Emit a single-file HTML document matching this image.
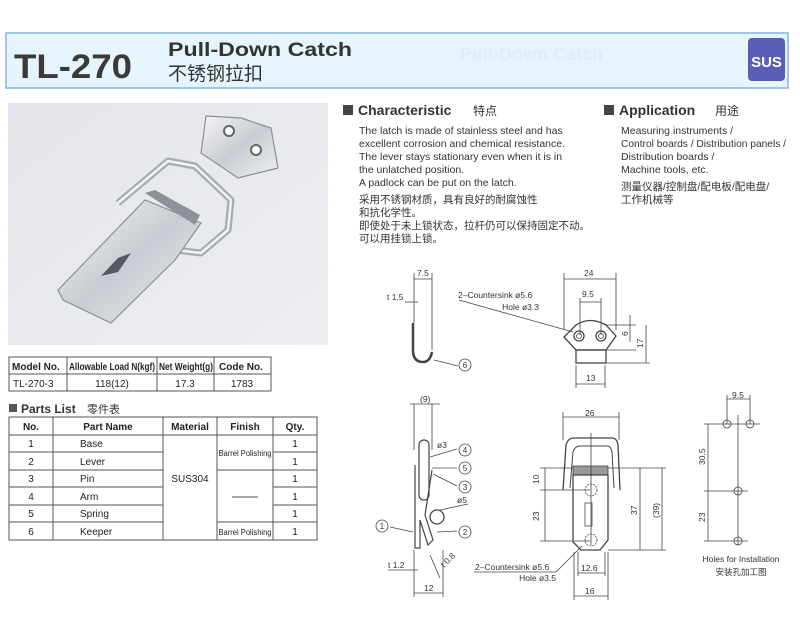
<!DOCTYPE html>
<html><head><meta charset="utf-8"><style>
html,body{margin:0;padding:0;background:#fff;}
svg{display:block;font-family:"Liberation Sans","Noto Sans CJK SC",sans-serif;}
</style></head><body>
<svg width="800" height="635" viewBox="0 0 800 635" xmlns="http://www.w3.org/2000/svg">
<defs>
<linearGradient id="met" x1="0" y1="0" x2="1" y2="1">
<stop offset="0" stop-color="#f4f5f7"/><stop offset="0.5" stop-color="#c9ccd2"/><stop offset="1" stop-color="#eef0f3"/>
</linearGradient>
<linearGradient id="bg" x1="0" y1="0" x2="1" y2="1">
<stop offset="0" stop-color="#e3e5ea"/><stop offset="1" stop-color="#eceef2"/>
</linearGradient>
</defs>
<!-- header -->
<rect x="6" y="33" width="782" height="55" fill="#e6f5fc" stroke="#7cb9e2" stroke-width="1.5"/>
<text x="14" y="78" font-size="34" font-weight="bold" fill="#3a3a3a" textLength="118" lengthAdjust="spacingAndGlyphs">TL-270</text>
<text x="168" y="56" font-size="19" font-weight="bold" fill="#333" textLength="184" lengthAdjust="spacingAndGlyphs">Pull-Down Catch</text>
<text x="168" y="80" font-size="19" fill="#333">不锈钢拉扣</text>
<text x="460" y="60" font-size="18" font-weight="bold" fill="#dfeef4">Pull-Down Catch</text>
<rect x="748" y="38" width="37" height="43" rx="4" fill="#5a5db4"/>
<text x="766.5" y="67" font-size="15" font-weight="bold" fill="#fff" text-anchor="middle">SUS</text>

<!-- photo -->
<rect x="8" y="103" width="320" height="242" fill="url(#bg)"/>
<path d="M206 116 L241 118 L271 128 L278 168 L238 178 L201 153 Z" fill="url(#met)" stroke="#8c9096" stroke-width="1.2"/>
<circle cx="229" cy="131" r="5" fill="#fff" stroke="#666" stroke-width="2"/>
<circle cx="256" cy="150" r="5" fill="#fff" stroke="#666" stroke-width="2"/>
<path d="M118 203 L168 161 L195 166 L231 200 L228 230 L201 253 L175 250" fill="none" stroke="#a7abb2" stroke-width="7" stroke-linejoin="round"/>
<path d="M118 203 L168 161 L195 166 L231 200 L228 230 L201 253 L175 250" fill="none" stroke="#f2f3f5" stroke-width="2.5" stroke-linejoin="round"/>
<path d="M58 290 L145 200 L201 223 L175 260 L111 323 L63 300 Z" fill="url(#met)" stroke="#8c9096" stroke-width="1.2"/>
<path d="M145 193 L155 190 L200 215 L195 225 Z" fill="#8e9298"/>
<path d="M101 276 L118 258 L131 253 L118 272 Z" fill="#555a60"/>

<!-- table 1 -->
<g stroke="#555" stroke-width="1" fill="none">
<rect x="9" y="357" width="262" height="34"/>
<line x1="9" y1="374" x2="271" y2="374"/>
<line x1="67" y1="357" x2="67" y2="391"/><line x1="157" y1="357" x2="157" y2="391"/><line x1="214" y1="357" x2="214" y2="391"/>
</g>
<g font-size="10" fill="#222">
<text x="12" y="370" font-weight="bold">Model No.</text>
<text x="69" y="370" font-weight="bold" textLength="86" lengthAdjust="spacingAndGlyphs">Allowable Load N(kgf)</text>
<text x="159" y="370" font-weight="bold" textLength="54" lengthAdjust="spacingAndGlyphs">Net Weight(g)</text>
<text x="219" y="370" font-weight="bold">Code No.</text>
<text x="13" y="387">TL-270-3</text>
<text x="112" y="387" text-anchor="middle">118(12)</text>
<text x="185" y="387" text-anchor="middle">17.3</text>
<text x="242" y="387" text-anchor="middle">1783</text>
</g>

<!-- parts list -->
<rect x="9" y="404" width="8" height="8" fill="#555"/>
<text x="21" y="413" font-size="12" font-weight="bold" fill="#333">Parts List</text>
<text x="87" y="413" font-size="11" fill="#333">零件表</text>
<g stroke="#555" stroke-width="1" fill="none">
<rect x="9" y="417" width="308" height="123"/>
<line x1="9" y1="435" x2="317" y2="435"/>
<line x1="9" y1="452" x2="163" y2="452"/><line x1="273" y1="452" x2="317" y2="452"/>
<line x1="9" y1="470" x2="163" y2="470"/><line x1="217" y1="470" x2="317" y2="470"/>
<line x1="9" y1="487" x2="163" y2="487"/><line x1="273" y1="487" x2="317" y2="487"/>
<line x1="9" y1="505" x2="163" y2="505"/><line x1="273" y1="505" x2="317" y2="505"/>
<line x1="9" y1="522" x2="163" y2="522"/><line x1="217" y1="522" x2="317" y2="522"/>
<line x1="53" y1="417" x2="53" y2="540"/><line x1="163" y1="417" x2="163" y2="540"/>
<line x1="217" y1="417" x2="217" y2="540"/><line x1="273" y1="417" x2="273" y2="540"/>
<line x1="232" y1="497" x2="258" y2="497"/>
</g>
<g font-size="10" fill="#222">
<text x="31" y="430" text-anchor="middle" font-weight="bold">No.</text>
<text x="108" y="430" text-anchor="middle" font-weight="bold">Part Name</text>
<text x="190" y="430" text-anchor="middle" font-weight="bold">Material</text>
<text x="245" y="430" text-anchor="middle" font-weight="bold">Finish</text>
<text x="295" y="430" text-anchor="middle" font-weight="bold">Qty.</text>
<text x="31" y="447" text-anchor="middle">1</text><text x="80" y="447">Base</text><text x="295" y="447" text-anchor="middle">1</text>
<text x="31" y="465" text-anchor="middle">2</text><text x="80" y="465">Lever</text><text x="295" y="465" text-anchor="middle">1</text>
<text x="31" y="482" text-anchor="middle">3</text><text x="80" y="482">Pin</text><text x="295" y="482" text-anchor="middle">1</text>
<text x="31" y="500" text-anchor="middle">4</text><text x="80" y="500">Arm</text><text x="295" y="500" text-anchor="middle">1</text>
<text x="31" y="517" text-anchor="middle">5</text><text x="80" y="517">Spring</text><text x="295" y="517" text-anchor="middle">1</text>
<text x="31" y="535" text-anchor="middle">6</text><text x="80" y="535">Keeper</text><text x="295" y="535" text-anchor="middle">1</text>
<text x="190" y="482" text-anchor="middle">SUS304</text>
<text x="245" y="456" text-anchor="middle" font-size="8.5" textLength="53" lengthAdjust="spacingAndGlyphs">Barrel Polishing</text>
<text x="245" y="535" text-anchor="middle" font-size="8.5" textLength="53" lengthAdjust="spacingAndGlyphs">Barrel Polishing</text>
</g>

<!-- characteristic -->
<rect x="343" y="105" width="10" height="10" fill="#444"/>
<text x="358" y="115" font-size="14" font-weight="bold" fill="#333">Characteristic</text>
<text x="473" y="115" font-size="12" fill="#333">特点</text>
<g font-size="10.5" fill="#333">
<text x="359" y="134">The latch is made of stainless steel and has</text>
<text x="359" y="147">excellent corrosion and chemical resistance.</text>
<text x="359" y="160">The lever stays stationary even when it is in</text>
<text x="359" y="173">the unlatched position.</text>
<text x="359" y="186">A padlock can be put on the latch.</text>
<text x="359" y="203">采用不锈钢材质，具有良好的耐腐蚀性</text>
<text x="359" y="216">和抗化学性。</text>
<text x="359" y="229">即使处于未上锁状态，拉杆仍可以保持固定不动。</text>
<text x="359" y="242">可以用挂锁上锁。</text>
</g>
<rect x="604" y="105" width="10" height="10" fill="#444"/>
<text x="619" y="115" font-size="14" font-weight="bold" fill="#333">Application</text>
<text x="715" y="115" font-size="12" fill="#333">用途</text>
<g font-size="10.5" fill="#333">
<text x="621" y="134">Measuring instruments /</text>
<text x="621" y="147" textLength="165" lengthAdjust="spacingAndGlyphs">Control boards / Distribution panels /</text>
<text x="621" y="160">Distribution boards /</text>
<text x="621" y="173">Machine tools, etc.</text>
<text x="621" y="190">测量仪器/控制盘/配电板/配电盘/</text>
<text x="621" y="203">工作机械等</text>
</g>

<!-- drawings -->
<g stroke="#444" stroke-width="0.8" fill="none">
<line x1="414" y1="273" x2="414" y2="323"/><line x1="432" y1="273" x2="432" y2="350"/>
<line x1="414" y1="279" x2="432" y2="279"/>
<line x1="405" y1="302" x2="418" y2="302"/>
<path d="M413 323 L413 350 Q413 362 423 362 Q430 362 432 352" stroke-width="2.5"/>
<line x1="434" y1="360" x2="458" y2="366"/>
<circle cx="465" cy="365" r="6"/>
<line x1="564" y1="273" x2="564" y2="330"/><line x1="616" y1="273" x2="616" y2="330"/>
<line x1="564" y1="279" x2="616" y2="279"/>
<line x1="580" y1="298" x2="580" y2="335"/><line x1="601" y1="298" x2="601" y2="335"/>
<line x1="580" y1="302" x2="601" y2="302"/>
<path d="M576 325 Q590 316 606 325 L616 336 L606 350 L576 350 L564 337 Z" stroke-width="1.3"/>
<rect x="576" y="350" width="30" height="13" stroke-width="1.3"/>
<circle cx="579" cy="336" r="5" stroke-width="1.3"/><circle cx="579" cy="336" r="2.5"/>
<circle cx="601" cy="336" r="5" stroke-width="1.3"/><circle cx="601" cy="336" r="2.5"/>
<line x1="459" y1="300" x2="573" y2="332"/>
<line x1="605" y1="325" x2="636" y2="325"/><line x1="605" y1="350" x2="636" y2="350"/><line x1="605" y1="363" x2="650" y2="363"/>
<line x1="630" y1="315" x2="630" y2="342"/><line x1="646" y1="325" x2="646" y2="363"/>
<line x1="576" y1="365" x2="576" y2="388"/><line x1="605" y1="365" x2="605" y2="388"/>
<line x1="576" y1="384" x2="605" y2="384"/>
<line x1="410" y1="404" x2="440" y2="404"/>
<line x1="414" y1="404" x2="414" y2="450"/><line x1="432" y1="404" x2="432" y2="450"/>
<rect x="419" y="440" width="10" height="60" rx="5" stroke-width="1.2"/>
<path d="M415 465 L415 548 L420 548 L420 520 L428 545 L433 540 L425 515 L432 470" stroke-width="1.2"/>
<circle cx="437" cy="517" r="7" stroke-width="1.3"/>
<line x1="430" y1="457" x2="457" y2="449"/><circle cx="465" cy="450" r="6"/>
<line x1="432" y1="468" x2="457" y2="468"/><circle cx="465" cy="468" r="6"/>
<line x1="433" y1="474" x2="457" y2="486"/><circle cx="465" cy="487" r="6"/>
<line x1="437" y1="532" x2="457" y2="531"/><circle cx="465" cy="532" r="6"/>
<line x1="390" y1="527" x2="413" y2="532"/><circle cx="382" cy="526" r="6"/>
<line x1="440" y1="510" x2="468" y2="504"/>
<line x1="414" y1="550" x2="414" y2="597"/><line x1="443" y1="550" x2="443" y2="597"/>
<line x1="414" y1="593" x2="443" y2="593"/>
<line x1="388" y1="570" x2="418" y2="570"/>
<line x1="430" y1="555" x2="440" y2="578"/>
<path d="M563 490 L566 445 Q568 438 574 438 L612 438 Q617 438 618 445 L620 490" stroke-width="1.3"/>
<path d="M570 488 L573 452 Q575 446 580 446 L607 446 Q611 446 612 452 L614 488" stroke-width="1"/>
<rect x="573" y="466" width="35" height="9" fill="#999" stroke-width="0.8"/>
<path d="M573 475 L608 475 L608 540 L600 550 L581 550 L573 542 Z" stroke-width="1.3"/>
<rect x="585" y="503" width="7" height="23" stroke-width="0.8"/>
<circle cx="591" cy="490" r="6" stroke-dasharray="2 1"/><circle cx="591" cy="540" r="6" stroke-dasharray="2 1"/>
<line x1="591" y1="433" x2="591" y2="545"/>
<line x1="563" y1="412" x2="563" y2="440"/><line x1="619" y1="412" x2="619" y2="440"/>
<line x1="563" y1="417" x2="619" y2="417"/>
<line x1="540" y1="468" x2="573" y2="468"/><line x1="540" y1="490" x2="590" y2="490"/><line x1="540" y1="541" x2="590" y2="541"/>
<line x1="545" y1="468" x2="545" y2="541"/>
<line x1="608" y1="468" x2="666" y2="468"/><line x1="608" y1="550" x2="666" y2="550"/>
<line x1="640" y1="468" x2="640" y2="550"/><line x1="662" y1="468" x2="662" y2="550"/>
<line x1="574" y1="552" x2="574" y2="600"/><line x1="608" y1="552" x2="608" y2="600"/>
<line x1="578" y1="552" x2="578" y2="576"/><line x1="605" y1="552" x2="605" y2="576"/>
<line x1="578" y1="573" x2="605" y2="573"/><line x1="574" y1="596" x2="608" y2="596"/>
<line x1="474" y1="572" x2="556" y2="572"/><line x1="556" y1="572" x2="582" y2="546"/>
<line x1="727" y1="395" x2="727" y2="424"/><line x1="750" y1="395" x2="750" y2="424"/>
<line x1="727" y1="399" x2="750" y2="399"/>
<line x1="738" y1="415" x2="738" y2="545"/>
<line x1="704" y1="424" x2="760" y2="424"/><line x1="704" y1="491" x2="748" y2="491"/><line x1="704" y1="541" x2="748" y2="541"/>
<line x1="708" y1="424" x2="708" y2="541"/>
<circle cx="727" cy="424" r="4"/><circle cx="750" cy="424" r="4"/>
<circle cx="738" cy="491" r="4"/><circle cx="738" cy="541" r="4"/>
</g>
<g font-size="8.5" fill="#333">
<text x="417" y="276">7.5</text>
<text x="387" y="300">t 1.5</text>
<text x="465" y="368" text-anchor="middle" font-size="8">6</text>
<text x="458" y="298">2–Countersink ø5.6</text>
<text x="539" y="310" text-anchor="end">Hole ø3.3</text>
<text x="584" y="276">24</text>
<text x="582" y="297">9.5</text>
<text x="586" y="381">13</text>
<text transform="translate(628 336) rotate(-90)">6</text>
<text transform="translate(643 348) rotate(-90)">17</text>
<text x="420" y="402">(9)</text>
<text x="437" y="448">ø3</text>
<text x="457" y="503">ø5</text>
<text x="465" y="453" text-anchor="middle" font-size="8">4</text>
<text x="465" y="471" text-anchor="middle" font-size="8">5</text>
<text x="465" y="490" text-anchor="middle" font-size="8">3</text>
<text x="465" y="535" text-anchor="middle" font-size="8">2</text>
<text x="382" y="529" text-anchor="middle" font-size="8">1</text>
<text x="388" y="568">t 1.2</text>
<text x="424" y="591">12</text>
<text transform="translate(444 568) rotate(-45)">t 0.8</text>
<text x="585" y="416">26</text>
<text transform="translate(539 484) rotate(-90)">10</text>
<text transform="translate(539 521) rotate(-90)">23</text>
<text transform="translate(637 515) rotate(-90)">37</text>
<text transform="translate(659 518) rotate(-90)">(39)</text>
<text x="475" y="570">2–Countersink ø5.6</text>
<text x="556" y="581" text-anchor="end">Hole ø3.5</text>
<text x="581" y="571">12.6</text>
<text x="585" y="594">16</text>
<text x="732" y="398">9.5</text>
<text transform="translate(705 465) rotate(-90)">30.5</text>
<text transform="translate(705 522) rotate(-90)">23</text>
<text x="741" y="562" text-anchor="middle">Holes for Installation</text>
<text x="741" y="575" text-anchor="middle">安装孔加工图</text>
</g>
</svg>
</body></html>
